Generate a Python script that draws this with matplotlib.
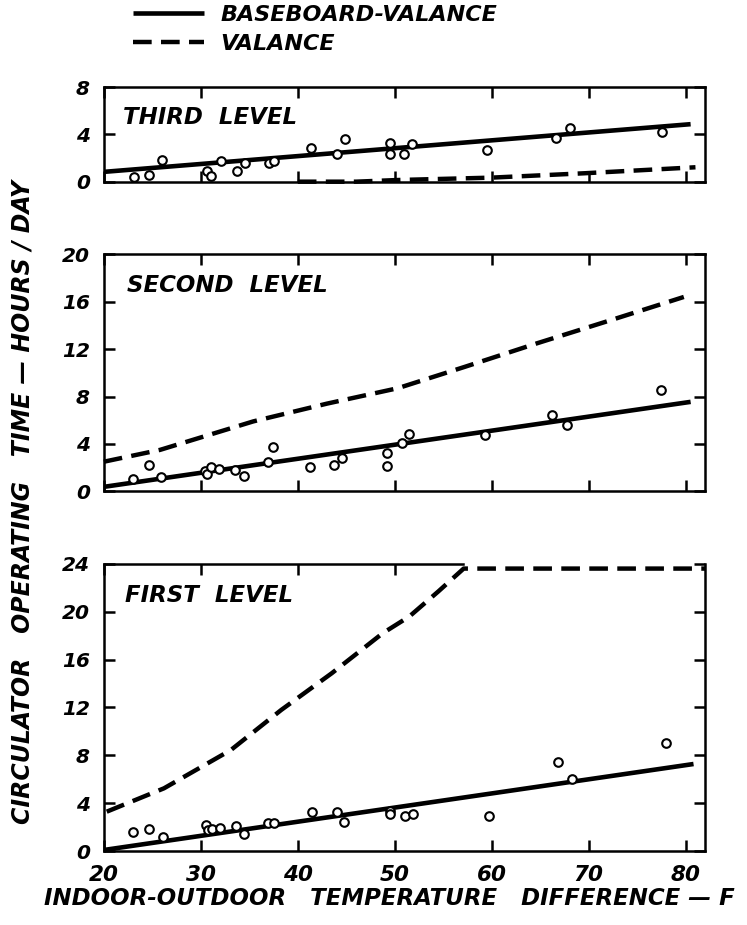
import matplotlib
matplotlib.use("Agg")
import matplotlib.pyplot as plt

# ---------------- data ----------------
x_ticks = [20, 30, 40, 50, 60, 70, 80]

# third level
t3_pts_x = [23.1, 24.7, 26.0, 30.6, 31.0, 32.1, 33.7, 34.6, 37.0, 37.5, 41.4, 44.0,
            44.9, 49.5, 49.5, 50.9, 51.8, 59.5, 66.6, 68.1, 77.6]
t3_pts_y = [0.37, 0.57, 1.81, 0.93, 0.51, 1.73, 0.93, 1.56, 1.61, 1.75, 2.83, 2.35,
            3.59, 3.25, 2.35, 2.35, 3.2, 2.69, 3.67, 4.52, 4.24]
t3_base_x = [20, 80.5]
t3_base_y = [0.83, 4.87]
t3_val_x = [40, 46, 50.3, 59.9, 69.5, 81.0]
t3_val_y = [0.0, 0.0, 0.14, 0.34, 0.71, 1.22]
t3_yticks = [0, 4, 8]

# second level
t2_pts_x = [23.0, 24.7, 25.9, 30.4, 30.6, 31.0, 31.9, 33.5, 34.5, 36.9, 37.4, 41.3,
            43.7, 44.6, 49.2, 49.2, 50.7, 51.5, 59.3, 66.2, 67.8, 77.4]
t2_pts_y = [1.05, 2.23, 1.19, 1.75, 1.45, 2.08, 1.91, 1.80, 1.30, 2.48, 3.77, 2.08,
            2.20, 2.79, 3.21, 2.17, 4.11, 4.84, 4.76, 6.44, 5.60, 8.55]
t2_base_x = [20, 80.5]
t2_base_y = [0.38, 7.55]
t2_val_x = [20, 25.8, 35.4, 43.0, 50.3, 57.2, 64.7, 72.3, 79.8]
t2_val_y = [2.5, 3.5, 5.9, 7.4, 8.7, 10.5, 12.5, 14.45, 16.4]
t2_yticks = [0, 4, 8, 12, 16, 20]

# first level
t1_pts_x = [23.0, 24.7, 26.1, 30.5, 30.7, 31.2, 32.0, 33.6, 34.5, 36.9, 37.5, 41.5,
            44.0, 44.8, 49.5, 49.5, 51.0, 51.9, 59.7, 66.8, 68.3, 78.0]
t1_pts_y = [1.58, 1.85, 1.21, 2.19, 1.77, 1.86, 1.91, 2.13, 1.44, 2.38, 2.38, 3.25,
            3.25, 2.46, 3.36, 3.10, 2.94, 3.08, 2.96, 7.43, 6.00, 9.07]
t1_base_x = [20, 80.8]
t1_base_y = [0.1, 7.28]
t1_val_x = [20.3, 26.2, 33.1, 38.3, 43.5, 48.75, 51.5, 54.5, 57.1, 82.0]
t1_val_y = [3.3, 5.25, 8.45, 11.8, 14.86, 18.2, 19.6, 21.7, 23.6, 23.6]
t1_yticks = [0, 4, 8, 12, 16, 20, 24]

panels = [
    ("THIRD  LEVEL", (0, 8), t3_yticks, t3_pts_x, t3_pts_y, t3_base_x, t3_base_y,
     t3_val_x, t3_val_y, [0.8036, 0.1021], (0.032, 0.675)),
    ("SECOND  LEVEL", (0, 20), t2_yticks, t2_pts_x, t2_pts_y, t2_base_x, t2_base_y,
     t2_val_x, t2_val_y, [0.4688, 0.2563], (0.038, 0.868)),
    ("FIRST  LEVEL", (0, 24), t1_yticks, t1_pts_x, t1_pts_y, t1_base_x, t1_base_y,
     t1_val_x, t1_val_y, [0.0798, 0.3107], (0.035, 0.89)),
]

plt.rcParams['font.family'] = ['DejaVu Sans']
fig = plt.figure(figsize=(7.47, 9.25), dpi=100)

FONT = dict(fontstyle='italic', fontweight='bold')
left, width = 0.139, 0.805
DASH = (4.2, 2.1)
handles = None
for i, (name, ylim, yt, px, py, bx, by, vx, vy, (bot, h), lab) in enumerate(panels):
    ax = fig.add_axes([left, bot, width, h])
    ax.set_xlim(20, 82)
    ax.set_ylim(*ylim)
    l1, = ax.plot(bx, by, color='black', lw=3.3, solid_capstyle='butt', zorder=3)
    l2, = ax.plot(vx, vy, color='black', lw=3.2, dashes=DASH, dash_capstyle='butt',
                  clip_on=False, zorder=3)
    ax.plot(px, py, linestyle='none', marker='o', markersize=6.2, markerfacecolor='white',
            markeredgecolor='black', markeredgewidth=1.5, zorder=4)
    if handles is None:
        handles = [l1, l2]
    ax.set_xticks(x_ticks)
    ax.set_yticks(yt)
    ax.tick_params(direction='in', top=True, right=True, length=8, width=1.8,
                   labelsize=14.5, pad=10)
    for s in ax.spines.values():
        s.set_linewidth(1.8)
    for t in ax.get_yticklabels():
        t.set_fontstyle('italic'); t.set_fontweight('bold')
    if i < 2:
        ax.set_xticklabels([])
    else:
        for t in ax.get_xticklabels():
            t.set_fontstyle('italic'); t.set_fontweight('bold')
            t.set_fontsize(15.5)
        ax.spines['top'].set_bounds(20, 57)
        for tk, v in zip(ax.xaxis.get_major_ticks(), x_ticks):
            if v > 57:
                tk.tick2line.set_visible(False)
    ax.text(lab[0], lab[1], name, transform=ax.transAxes, ha='left', va='center',
            fontsize=16.5, **FONT)

fig.text(0.030, 0.457, "CIRCULATOR   OPERATING   TIME — HOURS / DAY", rotation=90,
         ha='center', va='center', fontsize=17, **FONT)
fig.text(0.521, 0.029, "INDOOR-OUTDOOR   TEMPERATURE   DIFFERENCE — F",
         ha='center', va='center', fontsize=16.5, **FONT)

leg = fig.legend(handles, ["BASEBOARD-VALANCE", "VALANCE"], loc='upper left',
                 bbox_to_anchor=(133 / 747, 1 - 5 / 925), frameon=False,
                 borderaxespad=0, borderpad=0, handlelength=3.2, handletextpad=0.75,
                 labelspacing=0.4, prop=dict(size=16, style='italic', weight='bold'))

fig.savefig("out.png", dpi=100)
